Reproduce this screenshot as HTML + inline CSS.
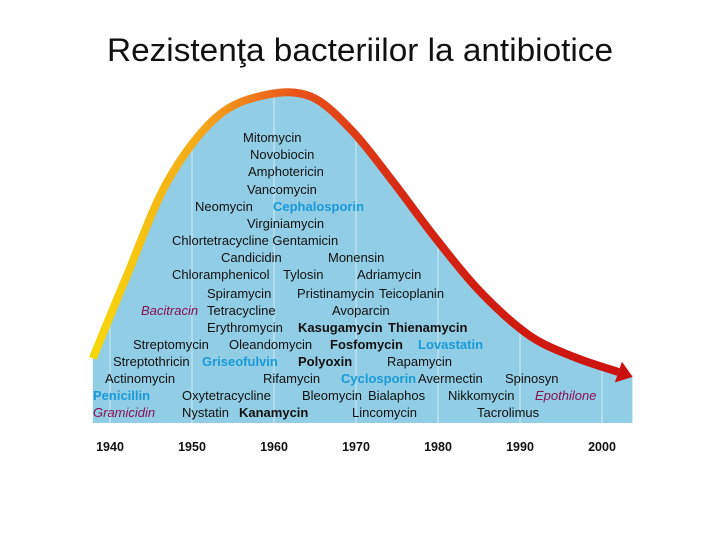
<!DOCTYPE html>
<html><head><meta charset="utf-8">
<style>
html,body{margin:0;padding:0;background:#fff;}
body{width:720px;height:540px;overflow:hidden;font-family:"Liberation Sans",sans-serif;}
svg{position:absolute;left:0;top:0;}
</style></head>
<body>
<svg width="720" height="540">
<defs>
<linearGradient id="curveGrad" x1="93" y1="0" x2="632" y2="0" gradientUnits="userSpaceOnUse">
<stop offset="0" stop-color="#f6d80a"/>
<stop offset="0.2" stop-color="#f5a81a"/>
<stop offset="0.38" stop-color="#e8521a"/>
<stop offset="0.6" stop-color="#d42412"/>
<stop offset="1" stop-color="#cc1010"/>
</linearGradient>
<clipPath id="areaClip"><path id="clipPath"/></clipPath>
</defs>
<text x="360" y="61" text-anchor="middle" font-size="32" fill="#111" textLength="506" lengthAdjust="spacingAndGlyphs">Rezistenţa bacteriilor la antibiotice</text>
<g id="plot"></g>
<g id="labels" font-size="13" fill="#111"></g>
<g id="xaxis" font-size="12.5" font-weight="bold" fill="#111"></g>
</svg>
<script>
const curveYears = [1937.9, 1942.0, 1947.0, 1953.0, 1959.0, 1964.5, 1969.5, 1974.5, 1979.5, 1985.0, 1991.0, 1996.5, 2002.0];
const curveValues = [19, 43, 71, 90, 96.5, 96, 86, 71, 55, 39, 26, 19.5, 15];
const tickYears = [1940, 1950, 1960, 1970, 1980, 1990, 2000];
const tickLabels = ["1940", "1950", "1960", "1970", "1980", "1990", "2000"];

const X0 = 110, PX = 8.2, BASE = 423, VY = 3.4;
function xs(yr){ return X0 + (yr - 1940) * PX; }
function ys(v){ return BASE - v * VY; }

const NS = "http://www.w3.org/2000/svg";
const plot = document.getElementById('plot');
function smoothPath(pts){
  let d = "M" + pts[0][0] + "," + pts[0][1];
  for (let i = 0; i < pts.length - 1; i++){
    const p0 = pts[i-1] || pts[i], p1 = pts[i], p2 = pts[i+1], p3 = pts[i+2] || p2;
    const c1x = p1[0] + (p2[0]-p0[0])/6, c1y = p1[1] + (p2[1]-p0[1])/6;
    const c2x = p2[0] - (p3[0]-p1[0])/6, c2y = p2[1] - (p3[1]-p1[1])/6;
    d += " C" + c1x + "," + c1y + " " + c2x + "," + c2y + " " + p2[0] + "," + p2[1];
  }
  return d;
}
const pts = curveYears.map((yr,i)=>[xs(yr), ys(curveValues[i])]);
const curveD = smoothPath(pts);
const last = pts[pts.length-1];
const rightX = last[0] + 14;
const areaD = curveD + " L" + rightX + "," + (last[1]+3) + " L" + rightX + "," + BASE + " L" + pts[0][0] + "," + BASE + " Z";

const area = document.createElementNS(NS,'path');
area.setAttribute('d', areaD);
area.setAttribute('fill', '#92cde6');


plot.appendChild(area);
document.getElementById('clipPath').setAttribute('d', areaD);

const grid = document.createElementNS(NS,'g');
grid.setAttribute('clip-path','url(#areaClip)');
plot.appendChild(grid);
tickYears.forEach(yr=>{
  const l = document.createElementNS(NS,'line');
  l.setAttribute('x1', xs(yr)); l.setAttribute('x2', xs(yr));
  l.setAttribute('y1', 80); l.setAttribute('y2', BASE);
  l.setAttribute('stroke', '#c8e6f3'); l.setAttribute('stroke-width', '1.2');
  
  
  grid.appendChild(l);
});

const curve = document.createElementNS(NS,'path');
curve.setAttribute('d', curveD);
curve.setAttribute('fill','none');
curve.setAttribute('stroke','url(#curveGrad)');
curve.setAttribute('stroke-width','8');


plot.appendChild(curve);

const prev = pts[pts.length-2];
const ang = Math.atan2(last[1]-prev[1], last[0]-prev[0]);
const tipX = last[0] + 15*Math.cos(ang), tipY = last[1] + 15*Math.sin(ang);
const pxn = -Math.sin(ang), pyn = Math.cos(ang);
const arrow = document.createElementNS(NS,'polygon');
arrow.setAttribute('points', [tipX+","+tipY, (last[0]+pxn*11)+","+(last[1]+pyn*11), (last[0]-pxn*11)+","+(last[1]-pyn*11)].join(" "));
arrow.setAttribute('fill','#cc1010');


plot.appendChild(arrow);

const xa = document.getElementById('xaxis');
tickYears.forEach((yr,i)=>{
  const t = document.createElementNS(NS,'text');
  t.setAttribute('x', xs(yr)); t.setAttribute('y', 451);
  t.setAttribute('text-anchor','middle');
  t.textContent = tickLabels[i];
  
  
  xa.appendChild(t);
});

const words = [
 ["Mitomycin",243,137,"n"],["Novobiocin",250,154,"n"],["Amphotericin",248,171,"n"],["Vancomycin",247,189,"n"],
 ["Neomycin",195,206,"n"],["Cephalosporin",273,206,"c"],["Virginiamycin",247,223,"n"],
 ["Chlortetracycline Gentamicin",172,240,"n"],["Candicidin",221,257,"n"],["Monensin",328,257,"n"],
 ["Chloramphenicol",172,274,"n"],["Tylosin",283,274,"n"],["Adriamycin",357,274,"n"],
 ["Spiramycin",207,293,"n"],["Pristinamycin",297,293,"n"],["Teicoplanin",379,293,"n"],
 ["Bacitracin",141,310,"m"],["Tetracycline",207,310,"n"],["Avoparcin",332,310,"n"],
 ["Erythromycin",207,327,"n"],["Kasugamycin",298,327,"b"],["Thienamycin",388,327,"b"],
 ["Streptomycin",133,344,"n"],["Oleandomycin",229,344,"n"],["Fosfomycin",330,344,"b"],["Lovastatin",418,344,"c"],
 ["Streptothricin",113,361,"n"],["Griseofulvin",202,361,"c"],["Polyoxin",298,361,"b"],["Rapamycin",387,361,"n"],
 ["Actinomycin",105,378,"n"],["Rifamycin",263,378,"n"],["Cyclosporin",341,378,"c"],["Avermectin",418,378,"n"],["Spinosyn",505,378,"n"],
 ["Penicillin",93,395,"c"],["Oxytetracycline",182,395,"n"],["Bleomycin",302,395,"n"],["Bialaphos",368,395,"n"],["Nikkomycin",448,395,"n"],["Epothilone",535,395,"m"],
 ["Gramicidin",93,412,"m"],["Nystatin",182,412,"n"],["Kanamycin",239,412,"b"],["Lincomycin",352,412,"n"],["Tacrolimus",477,412,"n"]
];
const lab = document.getElementById('labels');
words.forEach(w=>{
  const t = document.createElementNS(NS,'text');
  t.setAttribute('x', w[1]); t.setAttribute('y', w[2]+5);
  t.textContent = w[0];
  if (w[3]==="b") t.setAttribute('font-weight','bold');
  if (w[3]==="c"){ t.setAttribute('fill','#1a9ad6'); t.setAttribute('font-weight','bold'); }
  if (w[3]==="m"){ t.setAttribute('fill','#8a1050'); t.setAttribute('font-style','italic'); }
  
  
  lab.appendChild(t);
});
</script>
</body></html>
